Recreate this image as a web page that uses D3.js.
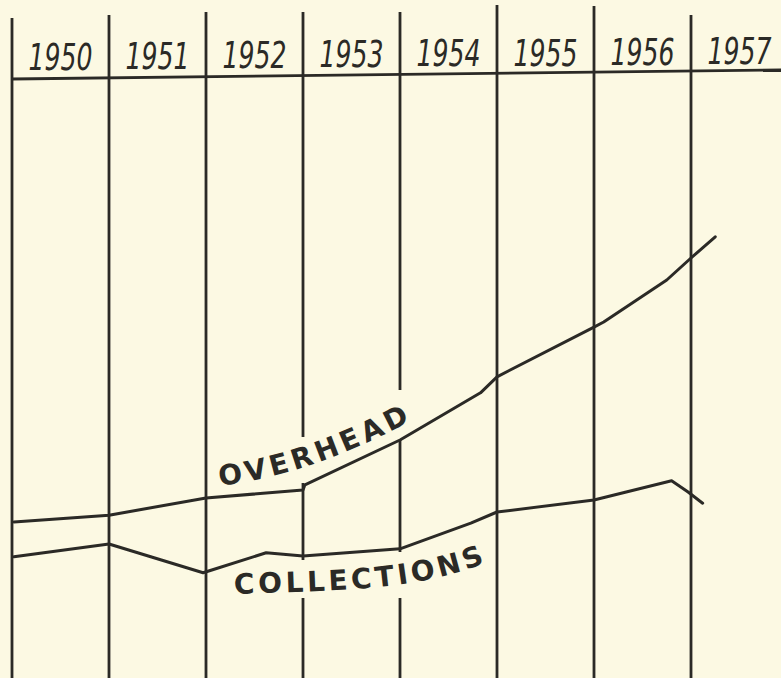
<!DOCTYPE html>
<html>
<head>
<meta charset="utf-8">
<script src="https://cdn.jsdelivr.net/npm/d3@7"></script>
<style>
  html, body { margin: 0; padding: 0; background: #fcf9e3; }
  svg { display: block; }
</style>
</head>
<body>
<svg id="chart"></svg>
<script>
// year columns (each vertical rule marks the start of a year)
const years = [1950, 1951, 1952, 1953, 1954, 1955, 1956, 1957];

// hand-drawn index values (arbitrary units)
const overheadX = [1950.02, 1951, 1952, 1953, 1953.02, 1954, 1954.83, 1955, 1956, 1956.1, 1956.75, 1957, 1957.25];
const overheadY = [24.5, 26.2, 30.5, 32.5, 33.8, 45, 56.8, 60.8, 73.2, 74.5, 85, 90.5, 95.8];

const collectionsX = [1950.02, 1951, 1951.97, 1952.06, 1952.62, 1953, 1954, 1954.73, 1955, 1956, 1956.8, 1956.97, 1957.12];
const collectionsY = [15.8, 19, 11.8, 12.5, 16.8, 16, 17.8, 24.2, 27, 30, 34.8, 32, 29.2];

const width = 781, height = 678;
const ink = '#2b2a26';

const svg = d3.select('#chart')
  .attr('width', width)
  .attr('height', height)
  .attr('viewBox', `0,0,${width},${height}`);

svg.append('rect').attr('width', width).attr('height', height).attr('fill', '#fcf9e3');

const x = d3.scaleLinear().domain([1950, 1958]).range([12, 788]);
const y = d3.scaleLinear().domain([0, 100]).range([620, 220]);

// vertical rules, with breaks where the lettering sits
const ruleTop = {1950: 18, 1951: 15, 1952: 12, 1953: 12, 1954: 12, 1955: 5, 1956: 6, 1957: 15};
const ruleGaps = {1953: [[437, 483], [560, 598]], 1954: [[390, 440], [552, 598]]};

years.forEach(yr => {
  let segs = [];
  let start = ruleTop[yr];
  (ruleGaps[yr] || []).forEach(g => { segs.push([start, g[0]]); start = g[1]; });
  segs.push([start, height]);
  svg.append('g').selectAll('line')
    .data(segs)
    .join('line')
      .attr('x1', x(yr)).attr('x2', x(yr))
      .attr('y1', d => d[0]).attr('y2', d => d[1])
      .attr('stroke', ink)
      .attr('stroke-width', 2.8);
});

// header rule under the years
svg.append('line')
  .attr('x1', x(1950)).attr('y1', 79)
  .attr('x2', width).attr('y2', 70)
  .attr('stroke', ink)
  .attr('stroke-width', 2.8);

// year labels, squeezed to look hand-lettered
const yearText = svg.append('g')
    .attr('font-family', '"DejaVu Sans Condensed", "DejaVu Sans", sans-serif')
    .attr('font-style', 'italic')
    .attr('font-size', 38)
    .attr('text-anchor', 'middle')
    .attr('fill', ink)
  .selectAll('text')
  .data(years)
  .join('text')
    .text(d => d);

yearText.attr('transform', function(d, i) {
  const sx = 64 / this.getComputedTextLength();
  return `translate(${x(d + 0.5)},${70 - i * 0.9}) scale(${sx},1)`;
});

// series lines
const line = d3.line()
  .x(d => x(d[0]))
  .y(d => y(d[1]));

const series = [
  d3.zip(overheadX, overheadY),
  d3.zip(collectionsX, collectionsY)
];

svg.append('g')
  .selectAll('path')
  .data(series)
  .join('path')
    .attr('d', line)
    .attr('fill', 'none')
    .attr('stroke', ink)
    .attr('stroke-width', 3)
    .attr('stroke-linejoin', 'round')
    .attr('stroke-linecap', 'round');

// hand lettering along gentle curves
const defs = svg.append('defs');
defs.append('path').attr('id', 'ovhPath').attr('d', 'M220,486 C275,478 330,465 428,412');
defs.append('path').attr('id', 'colPath').attr('d', 'M234,594 C330,590 420,592 492,560');

const labels = [
  {id: 'ovhPath', text: 'OVERHEAD', len: 202},
  {id: 'colPath', text: 'COLLECTIONS', len: 254}
];

svg.append('g')
    .attr('font-family', '"DejaVu Sans", sans-serif')
    .attr('font-size', 28)
    .attr('font-weight', 'bold')
    .attr('fill', ink)
  .selectAll('text')
  .data(labels)
  .join('text')
  .append('textPath')
    .attr('href', d => '#' + d.id)
    .attr('textLength', d => d.len)
    .attr('lengthAdjust', 'spacing')
    .text(d => d.text);
</script>
</body>
</html>
